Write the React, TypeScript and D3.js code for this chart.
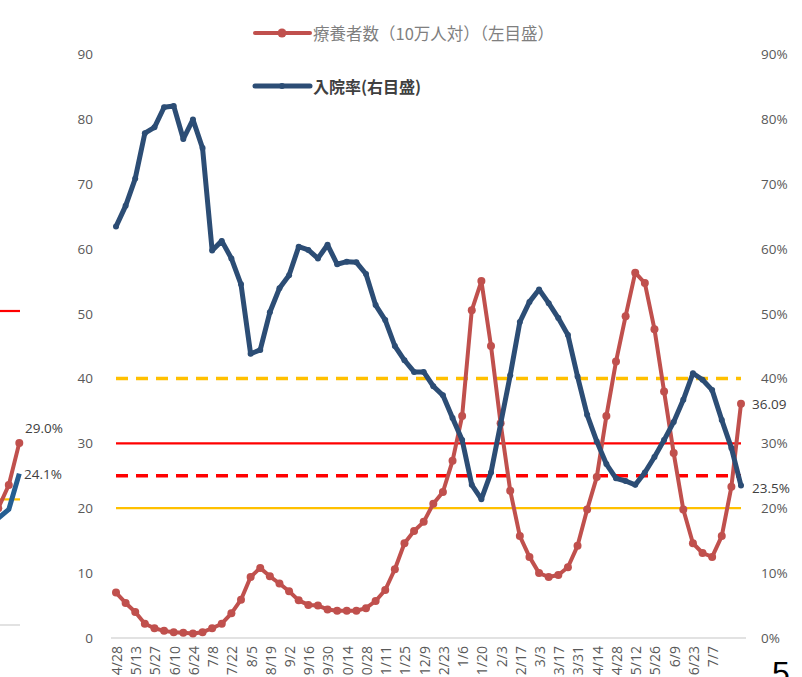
import * as d3 from 'd3';

// weekly categories (labels shown every second week)
const weeks = [
  '4/28', '5/6', '5/13', '5/20', '5/27', '6/3', '6/10', '6/17', '6/24', '7/1',
  '7/8', '7/15', '7/22', '7/29', '8/5', '8/12', '8/19', '8/26', '9/2', '9/9',
  '9/16', '9/23', '9/30', '10/7', '10/14', '10/21', '10/28', '11/4', '11/11', '11/18',
  '11/25', '12/2', '12/9', '12/16', '12/23', '12/30', '1/6', '1/13', '1/20', '1/27',
  '2/3', '2/10', '2/17', '2/24', '3/3', '3/10', '3/17', '3/24', '3/31', '4/7',
  '4/14', '4/21', '4/28', '5/5', '5/12', '5/19', '5/26', '6/2', '6/9', '6/16',
  '6/23', '6/30', '7/7', '7/14', '7/21', '7/28',
];

// 療養者数（10万人対）
const patients = [
  7.0, 5.4, 4.0, 2.2, 1.5, 1.1, 0.9, 0.8, 0.7, 0.9,
  1.5, 2.2, 3.8, 5.9, 9.4, 10.8, 9.5, 8.4, 7.2, 5.8,
  5.1, 5.0, 4.4, 4.2, 4.2, 4.2, 4.6, 5.7, 7.4, 10.6,
  14.6, 16.5, 17.9, 20.7, 22.5, 27.3, 34.2, 50.5, 55.0, 45.0,
  33.1, 22.7, 15.7, 12.5, 10.0, 9.4, 9.7, 10.9, 14.2, 19.8,
  24.8, 34.2, 42.6, 49.6, 56.3, 54.7, 47.6, 38.0, 28.5, 19.8,
  14.6, 13.1, 12.5, 15.7, 23.3, 36.09,
];

// 入院率 (%)
const hospRate = [
  63.4, 66.6, 70.8, 77.8, 78.7, 81.8, 82.0, 76.9, 79.9, 75.5,
  59.7, 61.2, 58.5, 54.5, 43.8, 44.4, 50.2, 53.9, 55.9, 60.3,
  59.8, 58.5, 60.6, 57.6, 58.0, 57.9, 56.1, 51.3, 49.0, 45.0,
  42.8, 41.0, 41.0, 38.8, 37.4, 33.9, 30.5, 23.6, 21.4, 25.5,
  33.0, 40.5, 48.7, 51.8, 53.7, 51.6, 49.3, 46.7, 40.3, 34.4,
  30.3, 26.8, 24.6, 24.2, 23.6, 25.5, 27.9, 30.5, 33.3, 36.7,
  40.8, 39.8, 38.2, 33.6, 29.3, 23.5,
];

const thresholdValues = [40, 30, 25, 20];
const leftTicks = [0, 10, 20, 30, 40, 50, 60, 70, 80, 90];

// cropped neighbouring chart at the left edge
const prevPatients = [17.2, 18.6, 22.3, 29.0];
const prevRate = [16.0, 17.0, 18.4, 24.1];
const prevThresholds = [50, 20];

const W = 802;
const H = 677;
const RED = '#C0504D';
const BLUE = '#2C4D75';
const TXT = '#595959';
const NUM_FONT = '"Open Sans", "Liberation Sans", sans-serif';
const JP_FONT = '"Noto Sans CJK JP", sans-serif';

const thresholdStyle = [
  { color: '#FFC000', width: 3.5, dash: '12 8' },
  { color: '#FF0000', width: 2.2, dash: null },
  { color: '#FF0000', width: 3.5, dash: '12 8' },
  { color: '#FFC000', width: 2.2, dash: null },
];

export default function App() {
  const idx = d3.range(weeks.length);
  const x = d3.scalePoint<number>().domain(idx).range([116, 741]);
  const y = d3.scaleLinear().domain([0, 90]).range([638, 54]);

  const line = d3
    .line<number>()
    .x((_, i) => x(i) as number)
    .y(d => y(d));

  const px = d3.scaleLinear().domain([0, 3]).range([-12.2, 19.3]);
  const py = d3.scaleLinear().domain([0, 50]).range([625, 311]);
  const prevLine = d3
    .line<number>()
    .x((_, i) => px(i))
    .y(d => py(d));

  const last = weeks.length - 1;
  const lastX = x(last) as number;

  return (
    <svg
      xmlns="http://www.w3.org/2000/svg"
      width={W}
      height={H}
      style={{ position: 'absolute', left: 0, top: 0, background: '#fff' }}
    >
      {/* left neighbouring chart fragment */}
      <g>
        <line x1={0} x2={20} y1={py(0)} y2={py(0)} stroke="#d9d9d9" strokeWidth={1.5} />
        {prevThresholds.map((v, i) => (
          <line
            key={i}
            x1={0}
            x2={20}
            y1={py(v)}
            y2={py(v)}
            stroke={i === 0 ? '#FF0000' : '#FFC000'}
            strokeWidth={2.2}
          />
        ))}
        <path d={prevLine(prevPatients) ?? ''} fill="none" stroke={RED} strokeWidth={4} strokeLinejoin="round" />
        {prevPatients.map((d, i) => (
          <circle key={i} cx={px(i)} cy={py(d)} r={4} fill={RED} />
        ))}
        <path d={prevLine(prevRate) ?? ''} fill="none" stroke="#255E91" strokeWidth={5} strokeLinejoin="round" />
        <text x={25} y={py(prevPatients[3]) - 15} fontFamily={NUM_FONT} fontSize={13.5} fill="#404040" dominantBaseline="central">
          {prevPatients[3].toFixed(1)}%
        </text>
        <text x={24} y={py(prevRate[3])} fontFamily={NUM_FONT} fontSize={13.5} fill="#404040" dominantBaseline="central">
          {prevRate[3].toFixed(1)}%
        </text>
      </g>

      {/* axis base line */}
      <line x1={111} x2={746} y1={y(0)} y2={y(0)} stroke="#d9d9d9" strokeWidth={1.5} />

      {/* left axis labels */}
      {leftTicks.map(t => (
        <text key={'l' + t} x={93} y={y(t)} textAnchor="end" dominantBaseline="central" fontFamily={NUM_FONT} fontSize={13.5} fill={TXT}>
          {t}
        </text>
      ))}
      {/* right axis labels */}
      {leftTicks.map(t => (
        <text key={'r' + t} x={761} y={y(t)} dominantBaseline="central" fontFamily={NUM_FONT} fontSize={13.5} fill={TXT}>
          {t}%
        </text>
      ))}

      {/* x labels (every second week, cut by the bottom edge as in the source) */}
      {idx.map(i =>
        i % 2 === 0 && i <= 62 ? (
          <text
            key={'x' + i}
            transform={`translate(${(x(i) as number) + 1},646) rotate(-90)`}
            textAnchor="end"
            dy="0.35em"
            fontFamily={NUM_FONT}
            fontSize={14}
            fill={TXT}
          >
            {weeks[i]}
          </text>
        ) : null
      )}

      {/* threshold lines */}
      {thresholdValues.map((v, i) => (
        <line
          key={'t' + i}
          x1={x(0)}
          x2={lastX}
          y1={y(v)}
          y2={y(v)}
          stroke={thresholdStyle[i].color}
          strokeWidth={thresholdStyle[i].width}
          strokeDasharray={thresholdStyle[i].dash ?? undefined}
        />
      ))}

      {/* 療養者数 */}
      <path d={line(patients) ?? ''} fill="none" stroke={RED} strokeWidth={4} strokeLinejoin="round" />
      {patients.map((d, i) => (
        <circle key={'p' + i} cx={x(i)} cy={y(d)} r={4} fill={RED} />
      ))}

      {/* 入院率 */}
      <path d={line(hospRate) ?? ''} fill="none" stroke={BLUE} strokeWidth={5} strokeLinejoin="round" />
      {hospRate.map((d, i) => (
        <circle key={'h' + i} cx={x(i)} cy={y(d)} r={3} fill={BLUE} />
      ))}

      {/* end labels */}
      <text x={752} y={y(patients[last])} dominantBaseline="central" fontFamily={NUM_FONT} fontSize={13.5} fill="#404040">
        {patients[last].toFixed(2)}
      </text>
      <text x={752} y={y(hospRate[last]) + 2} dominantBaseline="central" fontFamily={NUM_FONT} fontSize={13.5} fill="#404040">
        {hospRate[last].toFixed(1)}%
      </text>

      {/* legend */}
      <g>
        <line x1={255} x2={310} y1={33} y2={33} stroke={RED} strokeWidth={4} strokeLinecap="round" />
        <circle cx={282} cy={33} r={4.5} fill={RED} />
        <text x={313} y={33} dominantBaseline="central" fontFamily={JP_FONT} fontSize={16.5} fill="#7f7f7f">
          療養者数（10万人対）（左目盛）
        </text>
        <line x1={255} x2={310} y1={86} y2={86} stroke={BLUE} strokeWidth={5} strokeLinecap="round" />
        <circle cx={282} cy={86} r={3} fill={BLUE} />
        <text x={313} y={86} dominantBaseline="central" fontFamily={JP_FONT} fontSize={16} fontWeight="bold" fill="#404040">
          入院率(右目盛)
        </text>
      </g>

      {/* page number */}
      <text x={772} y={684} fontFamily='"Liberation Sans", sans-serif' fontSize={32} fill="#000">
        5
      </text>
    </svg>
  );
}
